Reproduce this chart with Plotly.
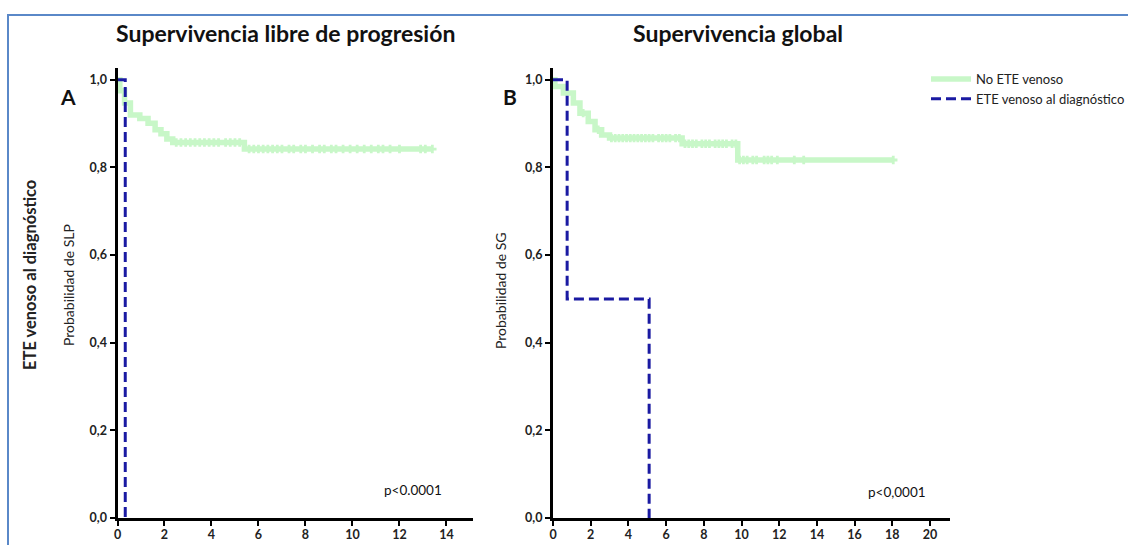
import numpy as np
import plotly.graph_objects as go

# ---------------- data ----------------
# Panel A: Supervivencia libre de progresión
A_no_t = [0, 0.1, 0.3, 0.55, 0.95, 1.3, 1.6, 1.85, 2.1, 2.35, 5.4, 13.4]
A_no_s = [1.0, 0.975, 0.947, 0.92, 0.912, 0.901, 0.886, 0.877, 0.865, 0.857, 0.842, 0.842]
A_no_cens = [2.5, 2.7, 2.9, 3.1, 3.3, 3.5, 3.7, 3.9, 4.1, 4.3, 4.6, 4.8, 5.0, 5.2,
             5.6, 5.8, 6.0, 6.2, 6.4, 6.6, 6.8, 7.0, 7.3, 7.5, 7.8, 8.0, 8.3, 8.6,
             8.8, 9.1, 9.3, 9.6, 9.9, 10.2, 10.5, 10.8, 11.1, 11.3, 11.6, 12.0,
             12.9, 13.1, 13.4]
A_ete_t = [0, 0.33]
A_ete_s = [1.0, 0.0]

# Panel B: Supervivencia global
B_no_t = [0, 0.1, 0.55, 1.08, 1.43, 1.87, 2.23, 2.58, 3.0, 6.85, 9.8, 18.05]
B_no_s = [1.0, 0.985, 0.97, 0.947, 0.924, 0.905, 0.886, 0.874, 0.867, 0.854, 0.817, 0.817]
B_no_cens = [1.6, 2.4, 3.1, 3.3, 3.5, 3.7, 3.9, 4.1, 4.3, 4.5, 4.7, 4.9, 5.1, 5.3, 5.6,
             5.8, 6.0, 6.2, 6.5, 6.7, 7.0, 7.2, 7.4, 7.6, 7.9, 8.1, 8.3, 8.6, 8.8,
             9.0, 9.2, 9.5, 9.7, 9.9, 10.1, 10.3, 10.6, 10.8, 11.2, 11.4, 11.6,
             11.9, 12.8, 13.3, 18.05]
B_ete_t = [0, 0.75, 5.1]
B_ete_s = [1.0, 0.5, 0.0]

y_ticks = [0.0, 0.2, 0.4, 0.6, 0.8, 1.0]
y_ticktext = ["0,0", "0,2", "0,4", "0,6", "0,8", "1,0"]
A_xticks = [0, 2, 4, 6, 8, 10, 12, 14]
B_xticks = [0, 2, 4, 6, 8, 10, 12, 14, 16, 18, 20]

series_names = ["No ETE venoso", "ETE venoso al diagnóstico"]

GREEN = "#c8f7c8"
BLUE = "#1a1aa2"
FONT = "Lato"


def step_value(t_arr, s_arr, t):
    idx = np.searchsorted(np.array(t_arr), t, side="right") - 1
    return float(np.array(s_arr)[max(idx, 0)])


fig = go.Figure()

for xa, ya, nt, ns, nc, et, es, show in [
    ("x", "y", A_no_t, A_no_s, A_no_cens, A_ete_t, A_ete_s, False),
    ("x2", "y2", B_no_t, B_no_s, B_no_cens, B_ete_t, B_ete_s, True),
]:
    fig.add_trace(go.Scatter(x=nt, y=ns, mode="lines", line=dict(color=GREEN, width=5.5, shape="hv"),
                             name=series_names[0], showlegend=show, xaxis=xa, yaxis=ya))
    fig.add_trace(go.Scatter(x=nc, y=[step_value(nt, ns, c) for c in nc], mode="markers",
                             marker=dict(symbol="cross", size=7, color=GREEN),
                             showlegend=False, xaxis=xa, yaxis=ya, hoverinfo="skip"))
    fig.add_trace(go.Scatter(x=et, y=es, mode="lines",
                             line=dict(color=BLUE, width=3, shape="hv", dash="10px,5px"),
                             name=series_names[1], showlegend=show, xaxis=xa, yaxis=ya))

# figure slightly wider than the 1128px window (keeps legend from pushing margins)
W, H = 1160, 545


def px_x(p):
    return p / W


def px_y(p):
    return 1 - p / H


axis_common = dict(showline=True, linecolor="black", linewidth=3, ticks="outside", ticklen=5,
                   tickwidth=2, tickcolor="black", showgrid=False, zeroline=False,
                   tickfont=dict(family=FONT, size=12.5, color="#222", weight="bold"),
                   mirror=False, fixedrange=True, automargin=False)

fig.update_layout(
    width=W, height=H, margin=dict(l=0, r=0, t=0, b=0),
    paper_bgcolor="white", plot_bgcolor="white",
    xaxis=dict(domain=[px_x(117.5), px_x(473)], range=[0, 15.13], tickvals=A_xticks,
               anchor="y", ticklabelstandoff=-2, **axis_common),
    yaxis=dict(domain=[px_y(518), px_y(68)], range=[0, 1.027], tickvals=y_ticks,
               ticktext=y_ticktext, anchor="x", **axis_common),
    xaxis2=dict(domain=[px_x(553), px_x(950)], range=[0, 21.06], tickvals=B_xticks,
                anchor="y2", ticklabelstandoff=-2, **axis_common),
    yaxis2=dict(domain=[px_y(518), px_y(68)], range=[0, 1.027], tickvals=y_ticks,
                ticktext=y_ticktext, anchor="x2", **axis_common),
    legend=dict(x=px_x(926), y=px_y(64), xanchor="left", yanchor="top",
                font=dict(family=FONT, size=13, color="#222"), bgcolor="rgba(0,0,0,0)",
                itemwidth=40, tracegroupgap=0),
    showlegend=True,
)

# frame
fig.add_shape(type="rect", xref="paper", yref="paper", x0=px_x(8), x1=1.2, y0=-0.2, y1=px_y(15),
              line=dict(color="#5a88c8", width=2), fillcolor="rgba(0,0,0,0)", layer="below")

ann = [
    dict(text="Supervivencia libre de progresión", x=px_x(285), y=px_y(33), size=23, bold=True),
    dict(text="Supervivencia global", x=px_x(738), y=px_y(33), size=23, bold=True),
    dict(text="A", x=px_x(68), y=px_y(96), size=21, bold=True),
    dict(text="B", x=px_x(510), y=px_y(97), size=21, bold=True),
    dict(text="p<0.0001", x=px_x(413), y=px_y(490), size=13.5, bold=False),
    dict(text="p<0,0001", x=px_x(897), y=px_y(492), size=13.5, bold=False),
]
for a in ann:
    fig.add_annotation(text=a["text"], x=a["x"], y=a["y"], xref="paper", yref="paper",
                       showarrow=False, xanchor="center", yanchor="middle",
                       font=dict(family=FONT, size=a["size"], color="#111",
                                 weight="bold" if a["bold"] else "normal"))

for text, x, y, size, bold in [
    ("Probabilidad de SLP", 68, 285, 14, False),
    ("Probabilidad de SG", 500, 290, 14, False),
    ("ETE venoso al diagnóstico", 30, 275, 16.5, True),
]:
    fig.add_annotation(text=text, x=px_x(x), y=px_y(y), xref="paper", yref="paper",
                       showarrow=False, textangle=-90, xanchor="center", yanchor="middle",
                       font=dict(family=FONT, size=size, color="#222",
                                 weight="bold" if bold else "normal"))

fig.write_html("out.html", config={"displayModeBar": False},
               post_script="document.body.style.margin='0px';document.body.style.overflow='hidden';")
